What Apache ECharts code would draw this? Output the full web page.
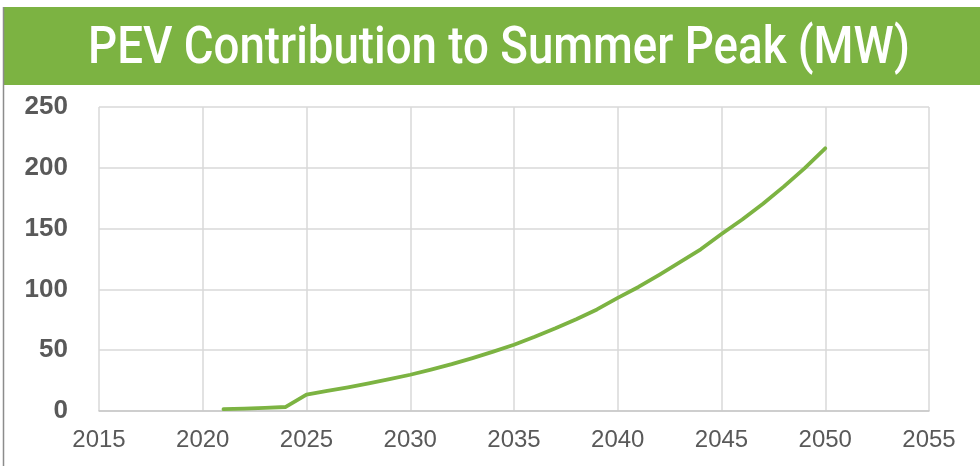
<!DOCTYPE html>
<html>
<head>
<meta charset="utf-8">
<script src="https://cdn.jsdelivr.net/npm/echarts@6/dist/echarts.min.js"></script>
<style>
  html, body { margin: 0; padding: 0; background: #ffffff; }
  #chart { width: 980px; height: 466px; }
</style>
</head>
<body>
<div id="chart"></div>
<script>
// Annual PEV contribution to summer peak demand (MW)
const years = [2021, 2022, 2023, 2024, 2025, 2026, 2027, 2028, 2029, 2030,
               2031, 2032, 2033, 2034, 2035, 2036, 2037, 2038, 2039, 2040,
               2041, 2042, 2043, 2044, 2045, 2046, 2047, 2048, 2049, 2050];
const peakMW = [1.5, 2.0, 2.6, 3.3, 13.5, 16.5, 19.5, 22.8, 26.2, 29.8,
                34.0, 38.5, 43.5, 48.8, 54.5, 61.0, 68.0, 75.5, 83.5, 93.0,
                102.0, 112.0, 122.5, 133.0, 145.5, 157.5, 170.5, 184.5, 199.5, 216.0];
const titleText = 'PEV Contribution to Summer Peak (MW)';

const green = '#7cb342';
const labelColor = '#595959';
const gridColor = '#d9d9d9';

// Condensed title: measure the medium face, then squeeze it horizontally
const titleFont = '500 51px Roboto, "Liberation Sans", Arial, sans-serif';
const ctx = document.createElement('canvas').getContext('2d');
ctx.font = titleFont;
const titleScale = 822 / ctx.measureText(titleText).width;

const chart = echarts.init(document.getElementById('chart'));
chart.setOption({
  animation: false,
  backgroundColor: '#ffffff',
  graphic: [
    { type: 'rect', left: 4, top: 7, shape: { width: 976, height: 78 },
      style: { fill: green } },
    { type: 'line', shape: { x1: 3.5, y1: 7, x2: 3.5, y2: 466 },
      style: { stroke: '#8c8c8c', lineWidth: 1.5 } },
    { type: 'text', x: 499, y: 50, scaleX: titleScale,
      style: { text: titleText, fill: '#ffffff', font: titleFont,
               x: 0, y: 0, align: 'center', verticalAlign: 'middle' } }
  ],
  grid: { left: 99, right: 51, top: 107, bottom: 55, containLabel: false },
  xAxis: {
    type: 'value', min: 2015, max: 2055, interval: 5,
    axisLine: { show: true, lineStyle: { color: '#c8c8c8', width: 1.5 } },
    axisTick: { show: false },
    splitLine: { show: true, lineStyle: { color: gridColor, width: 1.5 } },
    axisLabel: { color: labelColor, fontSize: 24, margin: 17,
                 formatter: v => String(v),
                 fontFamily: '"Liberation Sans", Arial, sans-serif' }
  },
  yAxis: {
    type: 'value', min: 0, max: 250, interval: 50,
    axisLine: { show: false },
    axisTick: { show: false },
    splitLine: { show: true, lineStyle: { color: gridColor, width: 1.5 } },
    axisLabel: { color: labelColor, fontSize: 26, fontWeight: 'bold', margin: 31,
                 fontFamily: '"Liberation Sans", Arial, sans-serif' }
  },
  series: [{
    type: 'line',
    data: years.map((y, i) => [y, peakMW[i]]),
    showSymbol: false,
    smooth: false,
    lineStyle: { color: green, width: 3.8, cap: 'round', join: 'round' }
  }]
});
</script>
</body>
</html>
